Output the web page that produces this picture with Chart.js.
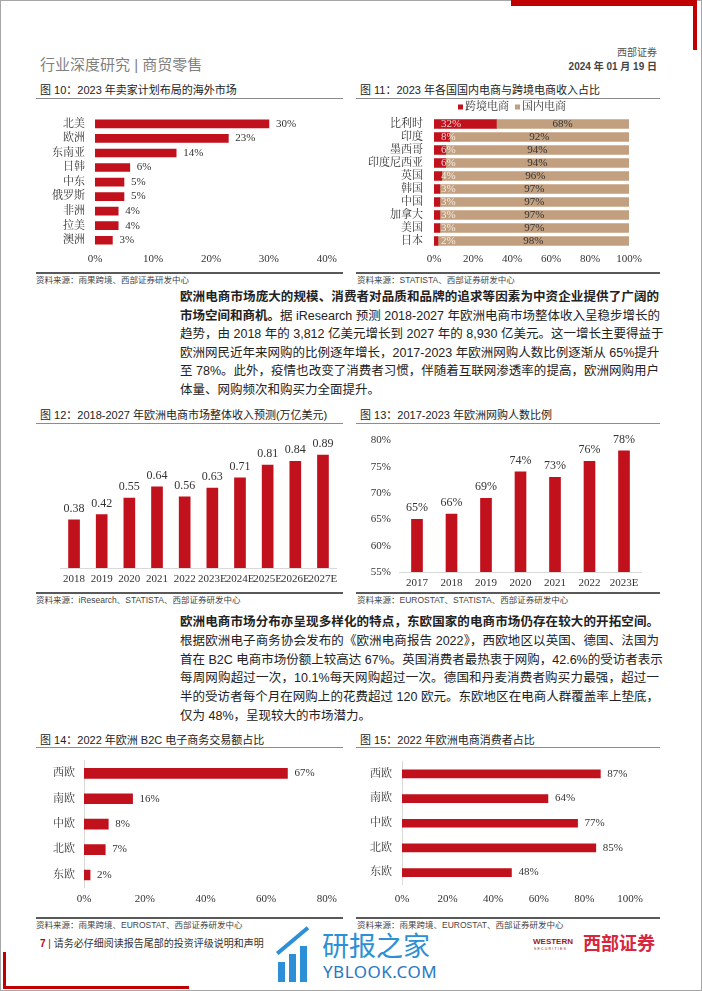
<!DOCTYPE html>
<html><head><meta charset="utf-8">
<script src="https://cdn.jsdelivr.net/npm/chart.js@4.4.0/dist/chart.umd.min.js"></script>
<style>
html,body{margin:0;padding:0;}
body{width:702px;height:991px;position:relative;background:#fff;overflow:hidden;font-family:"Liberation Sans","Noto Sans CJK SC",sans-serif;color:#222;}
.a{position:absolute;white-space:nowrap;}
canvas{position:absolute;}
.rule{position:absolute;height:1px;background:#8c8c8c;}
.srule{position:absolute;height:2px;background:#595959;}
.title{position:absolute;font-size:11px;line-height:14px;color:#222;white-space:nowrap;}
.src{position:absolute;font-size:8.5px;line-height:11px;color:#444;white-space:nowrap;}
.pl{position:absolute;left:180px;width:479px;height:20px;line-height:20px;font-size:12.5px;text-align:justify;text-align-last:justify;color:#222;white-space:nowrap;overflow:visible;}
.pl.last{text-align-last:left;}
b{font-weight:700;}
.red{background:#C00000;position:absolute;}
</style>
</head><body>

<!-- page frame & decorations -->
<div class="a" style="left:0;top:0;width:700px;height:989px;border:1px solid #a6a6a6;"></div>
<div class="red" style="left:511px;top:0;width:186px;height:6px;"></div>
<div class="red" style="left:693px;top:0;width:4px;height:50px;"></div>
<div class="red" style="left:3px;top:952px;width:3px;height:37px;"></div>
<div class="red" style="left:3px;top:986px;width:186px;height:3px;"></div>

<!-- header -->
<div class="a" style="left:40px;top:55px;font-size:15px;line-height:20px;color:#7f7f7f;">行业深度研究 | 商贸零售</div>
<div class="a" style="right:45px;top:47px;font-size:10px;line-height:12px;color:#555;">西部证券</div>
<div class="a" style="right:45px;top:61px;font-size:10px;line-height:12px;color:#444;font-weight:700;">2024 年 01 月 19 日</div>

<!-- titles -->
<div class="title" style="left:40px;top:83px;">图 10：2023 年卖家计划布局的海外市场</div>
<div class="title" style="left:360px;top:83px;">图 11：2023 年各国国内电商与跨境电商收入占比</div>
<div class="rule" style="left:36px;top:98px;width:307px;"></div>
<div class="rule" style="left:356px;top:98px;width:304px;"></div>
<div class="srule" style="left:36px;top:272px;width:307px;"></div>
<div class="srule" style="left:356px;top:272px;width:304px;"></div>
<div class="src" style="left:36px;top:275px;">资料来源：雨果跨境、西部证券研发中心</div>
<div class="src" style="left:357px;top:275px;">资料来源：STATISTA、西部证券研发中心</div>

<!-- paragraph 1 -->
<div class="pl" style="top:287px;"><b>欧洲电商市场庞大的规模、消费者对品质和品牌的追求等因素为中资企业提供了广阔的</b></div>
<div class="pl" style="top:305.5px;"><b>市场空间和商机。</b>据 iResearch 预测 2018-2027 年欧洲电商市场整体收入呈稳步增长的</div>
<div class="pl" style="top:324px;">趋势，由 2018 年的 3,812 亿美元增长到 2027 年的 8,930 亿美元。这一增长主要得益于</div>
<div class="pl" style="top:342.5px;">欧洲网民近年来网购的比例逐年增长，2017-2023 年欧洲网购人数比例逐渐从 65%提升</div>
<div class="pl" style="top:361px;">至 78%。此外，疫情也改变了消费者习惯，伴随着互联网渗透率的提高，欧洲网购用户</div>
<div class="pl last" style="top:379.5px;">体量、网购频次和购买力全面提升。</div>

<div class="title" style="left:40px;top:408px;">图 12：2018-2027 年欧洲电商市场整体收入预测(万亿美元)</div>
<div class="title" style="left:360px;top:408px;">图 13：2017-2023 年欧洲网购人数比例</div>
<div class="rule" style="left:36px;top:423px;width:307px;"></div>
<div class="rule" style="left:356px;top:423px;width:304px;"></div>
<div class="srule" style="left:36px;top:592px;width:307px;"></div>
<div class="srule" style="left:356px;top:592px;width:304px;"></div>
<div class="src" style="left:36px;top:595px;">资料来源：iResearch、STATISTA、西部证券研发中心</div>
<div class="src" style="left:357px;top:595px;">资料来源：EUROSTAT、STATISTA、西部证券研发中心</div>

<!-- paragraph 2 -->
<div class="pl" style="top:612px;"><b>欧洲电商市场分布亦呈现多样化的特点，东欧国家的电商市场仍存在较大的开拓空间。</b></div>
<div class="pl" style="top:631px;">根据欧洲电子商务协会发布的《欧洲电商报告 2022》，西欧地区以英国、德国、法国为</div>
<div class="pl" style="top:649.5px;">首在 B2C 电商市场份额上较高达 67%。英国消费者最热衷于网购，42.6%的受访者表示</div>
<div class="pl" style="top:668px;">每周网购超过一次，10.1%每天网购超过一次。德国和丹麦消费者购买力最强，超过一</div>
<div class="pl" style="top:687px;">半的受访者每个月在网购上的花费超过 120 欧元。东欧地区在电商人群覆盖率上垫底，</div>
<div class="pl last" style="top:705.5px;">仅为 48%，呈现较大的市场潜力。</div>

<div class="title" style="left:40px;top:733px;">图 14：2022 年欧洲 B2C 电子商务交易额占比</div>
<div class="title" style="left:360px;top:733px;">图 15：2022 年欧洲电商消费者占比</div>
<div class="rule" style="left:36px;top:747px;width:307px;"></div>
<div class="rule" style="left:356px;top:747px;width:304px;"></div>
<div class="srule" style="left:36px;top:917px;width:307px;"></div>
<div class="srule" style="left:356px;top:917px;width:304px;"></div>
<div class="src" style="left:36px;top:920px;">资料来源：雨果跨境、EUROSTAT、西部证券研发中心</div>
<div class="src" style="left:357px;top:920px;">资料来源：雨果跨境、EUROSTAT、西部证券研发中心</div>

<!-- footer -->
<div class="a" style="left:40px;top:937px;font-size:10px;line-height:13px;color:#333;"><b style="color:#C00000;">7</b> <span style="color:#C00000;">|</span> 请务必仔细阅读报告尾部的投资评级说明和声明</div>
<!-- watermark -->
<div class="a" style="left:278px;top:962px;width:7px;height:20px;background:#2d8fd5;"></div>
<div class="a" style="left:289px;top:954px;width:7px;height:28px;background:#2d8fd5;"></div>
<div class="a" style="left:300px;top:946px;width:7px;height:36px;background:#2d8fd5;"></div>
<div class="a" style="left:276px;top:952px;width:40px;height:4px;background:#2d8fd5;transform:rotate(-40deg);transform-origin:0 0;"></div>
<div class="a" style="left:322px;top:929px;font-size:27px;line-height:32px;color:#2d8fd5;font-family:'Noto Sans CJK SC';">研报之家</div>
<div class="a" style="left:323px;top:962px;font-size:17px;line-height:20px;color:#2878bf;font-family:'Noto Sans','Liberation Sans';letter-spacing:0.5px;">YBLOOK.COM</div>
<!-- western logo -->
<div class="a" style="left:533px;top:937px;font-size:8px;line-height:9px;color:#9b1b1b;font-weight:700;font-family:'Liberation Sans';">WESTERN</div>
<div class="a" style="left:534px;top:947px;font-size:3.5px;line-height:4px;color:#9b1b1b;letter-spacing:1.2px;font-family:'Liberation Sans';">SECURITIES</div>
<div class="a" style="left:583px;top:930px;font-size:18px;line-height:24px;color:#D7263D;font-weight:700;font-family:'Noto Sans CJK SC';">西部证券</div>

<script>
// ---------------- data ----------------
const c10Cats = ['北美','欧洲','东南亚','日韩','中东','俄罗斯','非洲','拉美','澳洲'];
const c10Vals = [30,23,14,6,5,5,4,4,3];

const c11Cats  = ['比利时','印度','墨西哥','印度尼西亚','英国','韩国','中国','加拿大','美国','日本'];
const c11Cross = [32,8,6,6,4,3,3,3,3,2];
const c11Dom   = [68,92,94,94,96,97,97,97,97,98];
const c11Series = ['跨境电商','国内电商'];

const c12Cats = ['2018','2019','2020','2021','2022','2023E','2024E','2025E','2026E','2027E'];
const c12Vals = [0.38,0.42,0.55,0.64,0.56,0.63,0.71,0.81,0.84,0.89];

const c13Cats = ['2017','2018','2019','2020','2021','2022','2023E'];
const c13Vals = [65,66,69,74,73,76,78];

const c14Cats = ['西欧','南欧','中欧','北欧','东欧'];
const c14Vals = [67,16,8,7,2];

const c15Cats = ['西欧','南欧','中欧','北欧','东欧'];
const c15Vals = [87,64,77,85,48];

// ---------------- styles ----------------
const RED = '#C0111D', TAN = '#C2A07F';
const SERIF = '"Liberation Serif","Noto Serif CJK SC","Noto Sans CJK SC",serif';
const TICK = {family: SERIF, size: 11};
Chart.defaults.font.family = SERIF;
Chart.defaults.color = '#333';

function canvasAt(b){
  const c = document.createElement('canvas');
  c.width = b.w; c.height = b.h;
  Object.assign(c.style, {left:b.x+'px', top:b.y+'px', width:b.w+'px', height:b.h+'px'});
  document.body.appendChild(c);
  return c;
}
function labelPlugin(items, legend){
  return {
    id: 'vl',
    afterDatasetsDraw(chart){
      const ctx = chart.ctx;
      items.forEach(it => {
        const meta = chart.getDatasetMeta(it.ds);
        const data = chart.data.datasets[it.ds].data;
        meta.data.forEach((el, i) => {
          ctx.save();
          ctx.font = it.font || ('11px ' + SERIF);
          ctx.fillStyle = it.color || '#333';
          ctx.textBaseline = 'middle';
          const t = it.fmt(data[i]);
          let x, y;
          if (it.pos === 'end') { x = el.x + it.gap; y = el.y; ctx.textAlign = 'left'; }
          else if (it.pos === 'top') { x = el.x; y = el.y - it.gap; ctx.textAlign = 'center'; }
          else if (it.pos === 'start') { x = el.base + it.gap; y = el.y; ctx.textAlign = 'left'; }
          else { x = (el.x + el.base) / 2; y = el.y; ctx.textAlign = 'center'; }
          ctx.fillText(t, x, y);
          ctx.restore();
        });
      });
      if (legend) {
        ctx.save();
        ctx.font = '11px ' + SERIF;
        ctx.textBaseline = 'middle';
        const ds = chart.data.datasets;
        const box = 5, gapBox = 2, gapItem = 6;
        let total = 0;
        const ws = ds.map(d => ctx.measureText(d.label).width);
        ws.forEach(w => total += box + gapBox + w);
        total += gapItem * (ds.length - 1);
        let x = legend.cx - total / 2;
        ds.forEach((d, i) => {
          ctx.fillStyle = d.backgroundColor;
          ctx.fillRect(x, legend.cy - box/2, box, box);
          x += box + gapBox;
          ctx.fillStyle = '#333';
          ctx.textAlign = 'left';
          ctx.fillText(d.label, x, legend.cy);
          x += ws[i] + gapItem;
        });
        ctx.restore();
      }
    }
  };
}
const pct = v => v + '%';
const baseOpts = {responsive:false, animation:false, devicePixelRatio:1,
  plugins:{legend:{display:false}, tooltip:{enabled:false}}};

// horizontal bar chart helper
function hbar(box, area, cfg){
  const c = canvasAt(box);
  return new Chart(c, {
    type:'bar',
    data:{labels: cfg.cats, datasets: cfg.datasets},
    options: Object.assign({}, baseOpts, {
      indexAxis:'y',
      layout:{padding:{top: area.T - box.y, right: box.x + box.w - area.R, left:0, bottom:0}},
      scales:{
        x:{min:0, max:cfg.max, stacked:!!cfg.stacked,
           grid:{display:false, drawTicks:false},
           border:{display:false},
           ticks:{stepSize:cfg.step, callback:pct, font:TICK, color:'#333', padding:cfg.xpad, maxRotation:0, autoSkip:false},
           afterFit: s => { s.height = box.y + box.h - area.B; }},
        y:{stacked:!!cfg.stacked,
           grid:{display:false, drawTicks:false, tickLength:0},
           border:{display:!!cfg.yBorder, color:'#d9d9d9'},
           ticks:{font:TICK, color:'#333', padding:cfg.ypad, autoSkip:false},
           afterFit: s => { s.width = area.L - box.x; }}
      }
    }),
    plugins:[labelPlugin(cfg.labels, cfg.legend)]
  });
}

// Chart 10
hbar({x:30,y:100,w:312,h:172}, {L:95,T:111.5,R:327,B:247.5}, {
  cats:c10Cats, max:40, step:10, xpad:5, ypad:10,
  datasets:[{data:c10Vals, backgroundColor:RED, barThickness:8}],
  labels:[{ds:0, pos:'end', gap:7, fmt:pct}]
});

// Chart 11
hbar({x:355,y:96,w:312,h:176}, {L:434,T:117.5,R:629,B:247.5}, {
  cats:c11Cats, max:100, step:20, xpad:5, ypad:11, stacked:true,
  datasets:[
    {label:c11Series[0], data:c11Cross, backgroundColor:RED, barThickness:9},
    {label:c11Series[1], data:c11Dom, backgroundColor:TAN, barThickness:9}
  ],
  labels:[
    {ds:0, pos:'start', gap:7, fmt:pct, color:'rgba(255,255,255,0.8)'},
    {ds:1, pos:'center', fmt:pct, color:'#333'}
  ],
  legend:{cx:512-355, cy:107-96}
});

// Chart 12
(function(){
  const box = {x:30,y:425,w:315,h:168}, area = {L:60.2,T:441,R:336.8,B:568};
  const c = canvasAt(box);
  new Chart(c, {
    type:'bar',
    data:{labels:c12Cats, datasets:[{data:c12Vals, backgroundColor:RED, barThickness:11}]},
    options:Object.assign({}, baseOpts, {
      layout:{padding:{top:area.T-box.y, left:area.L-box.x, right:box.x+box.w-area.R, bottom:0}},
      scales:{
        x:{grid:{display:false, drawTicks:false}, border:{display:true, color:'#d9d9d9'},
           ticks:{font:TICK, color:'#333', padding:5, autoSkip:false, maxRotation:0, minRotation:0},
           afterFit: s => { s.height = box.y + box.h - area.B; }},
        y:{display:false, min:0, max:1}
      }
    }),
    plugins:[labelPlugin([{ds:0, pos:'top', gap:11, fmt:v=>v.toFixed(2), font:'12px '+SERIF}])]
  });
})();

// Chart 13
(function(){
  const box = {x:355,y:425,w:310,h:168}, area = {L:399.75,T:436,R:641.25,B:572};
  const c = canvasAt(box);
  new Chart(c, {
    type:'bar',
    data:{labels:c13Cats, datasets:[{data:c13Vals, backgroundColor:RED, barThickness:11}]},
    options:Object.assign({}, baseOpts, {
      layout:{padding:{top:area.T-box.y, left:0, right:box.x+box.w-area.R, bottom:0}},
      scales:{
        x:{grid:{display:false, drawTicks:false}, border:{display:true, color:'#d9d9d9'},
           ticks:{font:TICK, color:'#333', padding:5, autoSkip:false, maxRotation:0},
           afterFit: s => { s.height = box.y + box.h - area.B; }},
        y:{min:55, max:80, grid:{display:false, drawTicks:false, tickLength:0}, border:{display:false},
           ticks:{stepSize:5, callback:pct, font:TICK, color:'#333', padding:8.75},
           afterFit: s => { s.width = area.L - box.x; }}
      }
    }),
    plugins:[labelPlugin([{ds:0, pos:'top', gap:11.5, fmt:pct, font:'12px '+SERIF}])]
  });
})();

// Chart 14
hbar({x:30,y:745,w:312,h:170}, {L:84,T:760.25,R:327,B:887.75}, {
  cats:c14Cats, max:80, step:20, xpad:5, ypad:9, yBorder:true,
  datasets:[{data:c14Vals, backgroundColor:RED, barThickness:10}],
  labels:[{ds:0, pos:'end', gap:7, fmt:pct}]
});

// Chart 15
hbar({x:355,y:745,w:312,h:170}, {L:402,T:756.1,R:630,B:884.9}, {
  cats:c15Cats, max:100, step:20, xpad:8, ypad:10, yBorder:true,
  datasets:[{data:c15Vals, backgroundColor:RED, barThickness:8}],
  labels:[{ds:0, pos:'end', gap:7, fmt:pct}]
});
</script>
</body></html>
